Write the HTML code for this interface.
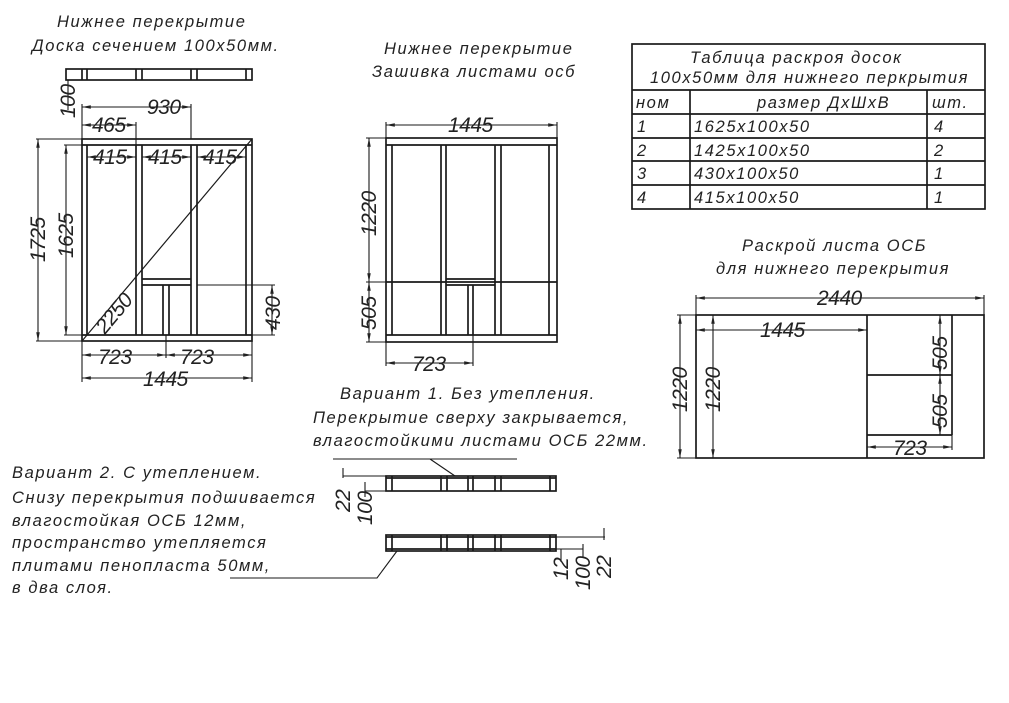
<!DOCTYPE html>
<html><head><meta charset="utf-8"><style>
html,body{margin:0;padding:0;background:#fff}
svg{display:block}
text{font-family:"Liberation Sans","DejaVu Sans",sans-serif;font-style:italic;fill:#222}
.t{font-size:16.5px;letter-spacing:1.6px}
.d{font-size:21px;font-family:"Liberation Sans Narrow","Liberation Sans",sans-serif;letter-spacing:-0.5px}
</style></head><body>
<svg width="1009" height="703" viewBox="0 0 1009 703" xmlns="http://www.w3.org/2000/svg">
<defs><marker id="a" viewBox="0 0 10 10" refX="10" refY="5" markerWidth="8" markerHeight="8" orient="auto-start-reverse"><path d="M0 3L10 5L0 7z" fill="#222"/></marker></defs>
<g stroke="#1a1a1a" stroke-width="1.7" fill="none">
<rect x="66" y="69" width="186" height="11"/>
<path d="M82 69V80M87 69V80M136 69V80M142 69V80M191 69V80M197 69V80M246 69V80"/>
<rect x="82" y="139" width="170" height="202"/>
<path d="M82 145H252M82 335H252M87 145V335M246 145V335M136 145V335M142 145V335M191 145V335M197 145V335"/>
<path d="M142 279H191M142 285H191M163 285V335M169 285V335"/>
<path d="M82 341L252 139" stroke-width="1.2"/>
<g stroke-width="1.1">
<path d="M68 80V110M82 104V139M191 104V139M136 122V145M36 139H82M36 341H82M64 145H82M64 335H82M197 285H275M252 335H275M82 341V382M252 341V382M166 335V358"/>
<g marker-start="url(#a)" marker-end="url(#a)">
<path d="M82 107H191"/><path d="M82 125H136"/>
<path d="M87 157H136"/><path d="M142 157H191"/><path d="M197 157H246"/>
<path d="M38 139V341"/><path d="M66 145V335"/><path d="M272 285V335"/>
<path d="M82 355H166"/><path d="M166 355H252"/><path d="M82 378H252"/>
</g>
</g>
<rect x="386" y="138" width="171" height="204"/>
<path d="M386 145H557M386 335H557M392 145V335M549 145V335M441 145V335M446 145V335M495 145V335M501 145V335"/>
<path d="M386 282H557M446 279H495M446 285H495M468 285V335M473 285V335"/>
<g stroke-width="1.1">
<path d="M386 122V138M557 122V138M366 138H386M366 282H386M366 342H386M386 342V366M473 335V366"/>
<g marker-start="url(#a)" marker-end="url(#a)">
<path d="M386 125H557"/><path d="M369 138V282"/><path d="M369 282V342"/><path d="M386 363H473"/>
</g>
</g>
<rect x="632" y="44" width="353" height="165"/>
<path d="M632 90H985M632 114H985M632 138H985M632 161H985M632 185H985M690 90V209M927 90V209"/>
<rect x="696" y="315" width="288" height="143"/>
<path d="M867 315V458M867 375H952M867 435H952M952 315V435"/>
<g stroke-width="1.1">
<path d="M696 295V315M984 295V315M677 315H696M677 458H696M952 435V450"/>
<g marker-start="url(#a)" marker-end="url(#a)">
<path d="M696 298H984"/><path d="M696 330H867"/><path d="M680 315V458"/><path d="M713 315V458"/>
<path d="M940 315V375"/><path d="M940 375V435"/><path d="M867 447H952"/>
</g>
</g>
<rect x="386" y="476" width="170" height="15"/>
<path d="M386 478H556M392 476V491M441 476V491M447 476V491M468 476V491M473 476V491M495 476V491M501 476V491M550 476V491"/>
<g stroke-width="1.1">
<path d="M343 476H386M343 468V478M365 491H386M365 482V497"/>
<path d="M333 459H517M430 459L455 476"/>
</g>
<rect x="386" y="535" width="170" height="16"/>
<path d="M386 537H556M386 549H556M392 535V551M441 535V551M447 535V551M468 535V551M473 535V551M495 535V551M501 535V551M550 535V551"/>
<g stroke-width="1.1">
<path d="M556 537H605M604 528V540M556 549H583M583 544V558M561 549V562"/>
<path d="M397 551L377 578H230"/>
</g>
</g>
<text class="t" x="57" y="27">Нижнее перекрытие</text>
<text class="t" x="32" y="51">Доска сечением 100х50мм.</text>
<text class="t" x="384" y="54">Нижнее перекрытие</text>
<text class="t" x="372" y="77">Зашивка листами осб</text>
<text class="t" x="690" y="63">Таблица раскроя досок</text>
<text class="t" x="650" y="83">100х50мм для нижнего перкрытия</text>
<text class="t" x="636" y="108">ном</text>
<text class="t" x="757" y="108">размер ДхШхВ</text>
<text class="t" x="932" y="108">шт.</text>
<text class="t" x="637" y="132">1</text><text class="t" x="694" y="132">1625х100х50</text><text class="t" x="934" y="132">4</text>
<text class="t" x="637" y="156">2</text><text class="t" x="694" y="156">1425х100х50</text><text class="t" x="934" y="156">2</text>
<text class="t" x="637" y="179">3</text><text class="t" x="694" y="179">430х100х50</text><text class="t" x="934" y="179">1</text>
<text class="t" x="637" y="203">4</text><text class="t" x="694" y="203">415х100х50</text><text class="t" x="934" y="203">1</text>
<text class="t" x="742" y="251">Раскрой листа ОСБ</text>
<text class="t" x="716" y="274">для нижнего перекрытия</text>
<text class="t" x="340" y="399">Вариант 1. Без утепления.</text>
<text class="t" x="313" y="423">Перекрытие сверху закрывается,</text>
<text class="t" x="313" y="446">влагостойкими листами ОСБ 22мм.</text>
<text class="t" x="12" y="478">Вариант 2. С утеплением.</text>
<text class="t" x="12" y="503">Снизу перекрытия подшивается</text>
<text class="t" x="12" y="526">влагостойкая ОСБ 12мм,</text>
<text class="t" x="12" y="548">пространство утепляется</text>
<text class="t" x="12" y="571">плитами пенопласта 50мм,</text>
<text class="t" x="12" y="593">в два слоя.</text>
<text class="d" x="147" y="114">930</text>
<text class="d" x="92" y="132">465</text>
<text class="d" x="93" y="164">415</text>
<text class="d" x="148" y="164">415</text>
<text class="d" x="203" y="164">415</text>
<text class="d" x="98" y="364">723</text>
<text class="d" x="180" y="364">723</text>
<text class="d" x="143" y="386">1445</text>
<text class="d" transform="translate(75,118) rotate(-90)">100</text>
<text class="d" transform="translate(45,262) rotate(-90)">1725</text>
<text class="d" transform="translate(73,258) rotate(-90)">1625</text>
<text class="d" transform="translate(280,330) rotate(-90)">430</text>
<text class="d" transform="translate(105,335) rotate(-50)">2250</text>
<text class="d" x="448" y="132">1445</text>
<text class="d" transform="translate(376,236) rotate(-90)">1220</text>
<text class="d" transform="translate(376,330) rotate(-90)">505</text>
<text class="d" x="412" y="371">723</text>
<text class="d" x="817" y="305">2440</text>
<text class="d" x="760" y="337">1445</text>
<text class="d" transform="translate(687,412) rotate(-90)">1220</text>
<text class="d" transform="translate(720,412) rotate(-90)">1220</text>
<text class="d" transform="translate(947,370) rotate(-90)">505</text>
<text class="d" transform="translate(947,428) rotate(-90)">505</text>
<text class="d" x="893" y="455">723</text>
<text class="d" transform="translate(350,512) rotate(-90)">22</text>
<text class="d" transform="translate(372,525) rotate(-90)">100</text>
<text class="d" transform="translate(568,580) rotate(-90)">12</text>
<text class="d" transform="translate(590,590) rotate(-90)">100</text>
<text class="d" transform="translate(611,578) rotate(-90)">22</text>
</svg>
</body></html>
